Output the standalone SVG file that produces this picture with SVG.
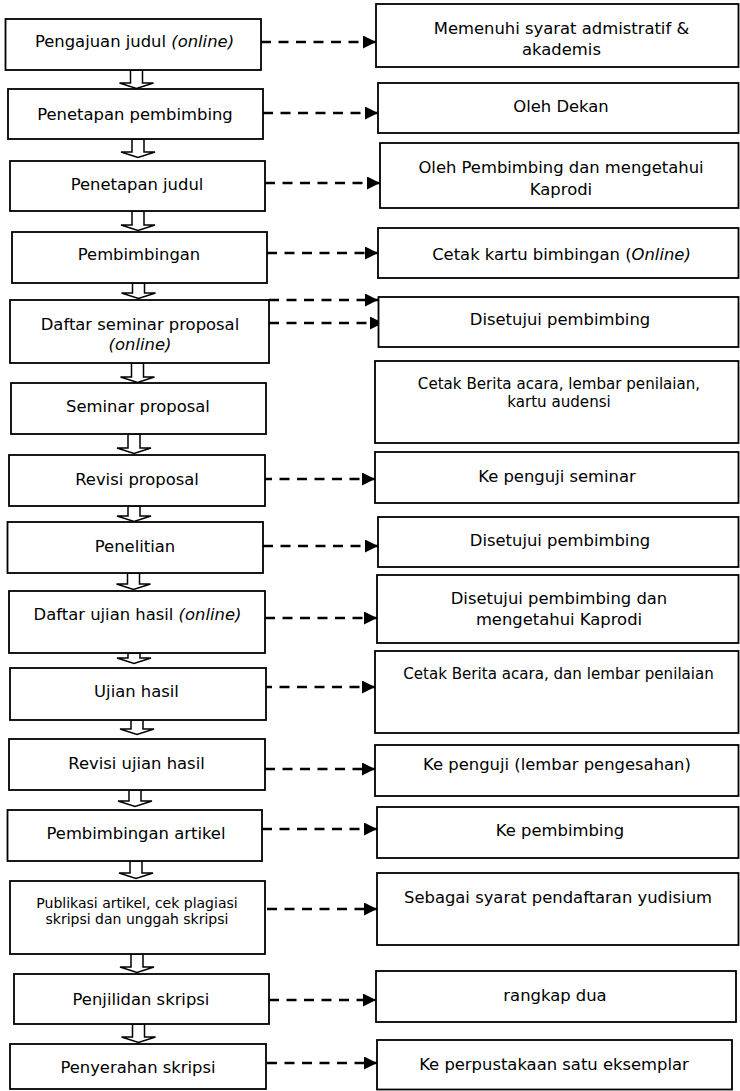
<svg xmlns="http://www.w3.org/2000/svg" width="740" height="1091" viewBox="0 0 740 1091">
<style>
.box{fill:#fff;stroke:#000;stroke-width:1.8}
.t{font-family:"DejaVu Sans",Verdana,sans-serif;font-size:16.4px;fill:#000;text-anchor:middle}
.s15{font-size:15.1px}
.s14{font-size:14px}
.i{font-style:italic}
.dash{fill:none;stroke:#000;stroke-width:2.4;stroke-dasharray:10 7.5;marker-end:url(#ah)}
.blk{fill:#fff;stroke:#000;stroke-width:1.5;stroke-linejoin:miter}
</style>
<defs>
<marker id="ah" markerUnits="userSpaceOnUse" markerWidth="14" markerHeight="14" refX="13" refY="6.5" orient="auto">
<path d="M0,0 L13,6.5 L0,13 Z" fill="#000"/>
</marker>
</defs>
<rect width="740" height="1091" fill="#fff"/>

<g id="connectors">
<path class="dash" d="M261,42 H376"/>
<path class="dash" d="M263,113 H378"/>
<path class="dash" d="M265,183 H380"/>
<path class="dash" d="M267,253 H378"/>
<path class="dash" d="M269,300 H378"/>
<path class="dash" d="M269,323 H383"/>
<path class="dash" d="M262,479 H375"/>
<path class="dash" d="M263,546 H378"/>
<path class="dash" d="M265,618 H377"/>
<path class="dash" d="M262,687 H375"/>
<path class="dash" d="M265,769 H375"/>
<path class="dash" d="M262,829 H377"/>
<path class="dash" d="M267,909 H377"/>
<path class="dash" d="M269,1000 H376"/>
<path class="dash" d="M267,1063 H377"/>
<path class="blk" d="M130.5,70 H142.5 V83 H153.5 L136.5,88.5 L119.5,83 H130.5 Z"/>
<path class="blk" d="M132,139 H144 V152 H155 L138,157.5 L121,152 H132 Z"/>
<path class="blk" d="M132,211 H144 V225 H155 L138,230.5 L121,225 H132 Z"/>
<path class="blk" d="M132.5,283 H144.5 V293 H155.5 L138.5,298.5 L121.5,293 H132.5 Z"/>
<path class="blk" d="M131.5,363 H143.5 V377 H154.5 L137.5,382.5 L120.5,377 H131.5 Z"/>
<path class="blk" d="M128,434 H140 V448 H151 L134,453.5 L117,448 H128 Z"/>
<path class="blk" d="M128,506 H140 V516 H151 L134,521.5 L117,516 H128 Z"/>
<path class="blk" d="M127.5,573 H139.5 V584 H150.5 L133.5,589.5 L116.5,584 H127.5 Z"/>
<path class="blk" d="M128,653 H140 V658 H151 L134,663.5 L117,658 H128 Z"/>
<path class="blk" d="M131,720 H143 V729 H154 L137,734.5 L120,729 H131 Z"/>
<path class="blk" d="M129,790 H141 V801 H152 L135,806.5 L118,801 H129 Z"/>
<path class="blk" d="M130,861 H142 V873 H153 L136,878.5 L119,873 H130 Z"/>
<path class="blk" d="M131,954 H143 V967 H154 L137,972.5 L120,967 H131 Z"/>
<path class="blk" d="M132.5,1024 H144.5 V1037 H155.5 L138.5,1042.5 L121.5,1037 H132.5 Z"/>
</g>

<g id="n1"><rect class="box" x="5.5" y="19" width="255.5" height="51"/><text class="t" x="134.5" y="47">Pengajuan judul <tspan class="i">(online)</tspan></text></g>
<g id="n2"><rect class="box" x="8" y="89" width="255" height="50"/><text class="t" x="135" y="119.5">Penetapan pembimbing</text></g>
<g id="n3"><rect class="box" x="10" y="161" width="255" height="50"/><text class="t" x="137" y="190">Penetapan judul</text></g>
<g id="n4"><rect class="box" x="12" y="232" width="255" height="51"/><text class="t" x="139" y="260">Pembimbingan</text></g>
<g id="n5"><rect class="box" x="10" y="300" width="259" height="63"/><text class="t" x="140" y="330">Daftar seminar proposal</text><text class="t i" x="140" y="350">(online)</text></g>
<g id="n6"><rect class="box" x="11" y="383" width="255" height="51"/><text class="t" x="138" y="411.5">Seminar proposal</text></g>
<g id="n7"><rect class="box" x="9" y="455" width="256" height="51"/><text class="t" x="137" y="485">Revisi proposal</text></g>
<g id="n8"><rect class="box" x="7.5" y="522" width="255.5" height="51"/><text class="t" x="135" y="552">Penelitian</text></g>
<g id="n9"><rect class="box" x="9" y="591" width="256" height="62"/><text class="t" x="137.5" y="620">Daftar ujian hasil <tspan class="i">(online)</tspan></text></g>
<g id="n10"><rect class="box" x="10" y="668" width="256" height="52"/><text class="t" x="136.5" y="697">Ujian hasil</text></g>
<g id="n11"><rect class="box" x="9" y="739" width="256" height="51"/><text class="t" x="136.5" y="769">Revisi ujian hasil</text></g>
<g id="n12"><rect class="box" x="7.5" y="810" width="254.5" height="51"/><text class="t" x="136" y="839">Pembimbingan artikel</text></g>
<g id="n13"><rect class="box" x="10" y="881" width="255" height="73"/><text class="t s14" x="137" y="907.5">Publikasi artikel, cek plagiasi</text><text class="t s14" x="137" y="924">skripsi dan unggah skripsi</text></g>
<g id="n14"><rect class="box" x="14" y="974" width="255" height="50"/><text class="t" x="141" y="1005">Penjilidan skripsi</text></g>
<g id="n15"><rect class="box" x="10" y="1044" width="256" height="45"/><text class="t" x="138" y="1072.5">Penyerahan skripsi</text></g>

<g id="r1"><rect class="box" x="376" y="4" width="362.5" height="63"/><text class="t" x="561.5" y="33.5">Memenuhi syarat admistratif &amp;</text><text class="t" x="561.5" y="55">akademis</text></g>
<g id="r2"><rect class="box" x="378" y="83" width="360.5" height="50"/><text class="t" x="561" y="111.5">Oleh Dekan</text></g>
<g id="r3"><rect class="box" x="380" y="143" width="358.5" height="65"/><text class="t" x="561" y="173">Oleh Pembimbing dan mengetahui</text><text class="t" x="561" y="195">Kaprodi</text></g>
<g id="r4"><rect class="box" x="378" y="228" width="360.5" height="50"/><text class="t" x="561.5" y="260">Cetak kartu bimbingan (<tspan class="i">Online)</tspan></text></g>
<g id="r5"><rect class="box" x="378.5" y="297" width="360" height="50"/><text class="t" x="560" y="325">Disetujui pembimbing</text></g>
<g id="r6"><rect class="box" x="375" y="361" width="363.5" height="82"/><text class="t s15" x="559" y="388.5">Cetak Berita acara, lembar penilaian,</text><text class="t s15" x="559" y="406.5">kartu audensi</text></g>
<g id="r7"><rect class="box" x="375" y="452" width="363.5" height="51"/><text class="t" x="557" y="481.5">Ke penguji seminar</text></g>
<g id="r8"><rect class="box" x="378" y="517" width="360.5" height="50"/><text class="t" x="560" y="546">Disetujui pembimbing</text></g>
<g id="r9"><rect class="box" x="377" y="575" width="361.5" height="68"/><text class="t" x="559" y="603.5">Disetujui pembimbing dan</text><text class="t" x="559" y="625">mengetahui Kaprodi</text></g>
<g id="r10"><rect class="box" x="375" y="651" width="363.5" height="82"/><text class="t s15" x="558.5" y="678.5">Cetak Berita acara, dan lembar penilaian</text></g>
<g id="r11"><rect class="box" x="375" y="745" width="363.5" height="51"/><text class="t" x="557" y="770">Ke penguji (lembar pengesahan)</text></g>
<g id="r12"><rect class="box" x="377" y="807" width="361.5" height="51"/><text class="t" x="560" y="836">Ke pembimbing</text></g>
<g id="r13"><rect class="box" x="377" y="873" width="361.5" height="72"/><text class="t" x="558" y="902.5">Sebagai syarat pendaftaran yudisium</text></g>
<g id="r14"><rect class="box" x="376" y="971" width="360" height="51"/><text class="t" x="555" y="1001">rangkap dua</text></g>
<g id="r15"><rect class="box" x="377" y="1040" width="355" height="49.5"/><text class="t" x="554" y="1069.5">Ke perpustakaan satu eksemplar</text></g>
</svg>
